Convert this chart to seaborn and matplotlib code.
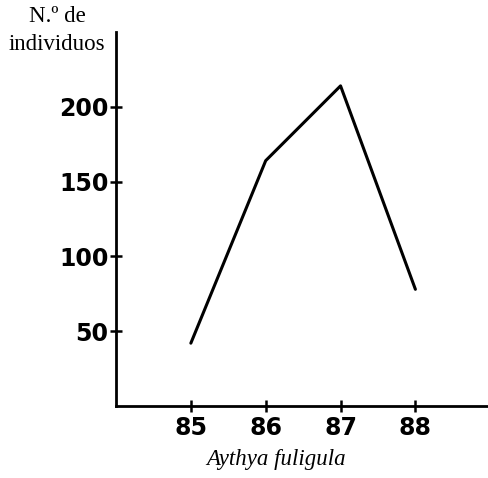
import seaborn as sns
import matplotlib.pyplot as plt
import pandas as pd

# values
years = [85, 86, 87, 88]
individuos = [42, 164, 214, 78]
y_ticks = [50, 100, 150, 200]

data = pd.DataFrame({'year': years, 'n': individuos})

sns.set_style('white')

fig = plt.figure(figsize=(4.88, 4.78), dpi=100)
ax = fig.add_axes([116 / 488, 72 / 478, 372 / 488, 374 / 478])

sns.lineplot(x='year', y='n', data=data, color='black', linewidth=2.2, ax=ax)

ax.set_xlim(84.0, 88.97)
ax.set_ylim(0, 250)
ax.set_xticks(years)
ax.set_yticks(y_ticks)
ax.set_xlabel('')
ax.set_ylabel('')

for s in ['top', 'right']:
    ax.spines[s].set_visible(False)
for s in ['left', 'bottom']:
    ax.spines[s].set_linewidth(2)
    ax.spines[s].set_color('black')

ax.tick_params(axis='both', which='major', bottom=True, left=True,
               direction='inout', length=9, width=1.8, color='black',
               labelcolor='black')
ax.tick_params(axis='x', pad=3)
ax.tick_params(axis='y', pad=1)
for lab in ax.get_xticklabels() + ax.get_yticklabels():
    lab.set_fontfamily('DejaVu Sans')
    lab.set_fontweight('bold')
    lab.set_fontsize(17)

# axis titles as in the original scan
fig.text(57 / 488, 1 - 16 / 478, 'N.º de', family='Liberation Serif', fontsize=16.5,
         ha='center', va='center', color='black')
fig.text(57 / 488, 1 - 45 / 478, 'individuos', family='Liberation Serif', fontsize=16.5,
         ha='center', va='center', color='black')
fig.text(276 / 488, 1 - 460 / 478, 'Aythya fuligula', family='Liberation Serif',
         style='italic', fontsize=16.5, ha='center', va='center', color='black')

fig.savefig('out.png', dpi=100)
